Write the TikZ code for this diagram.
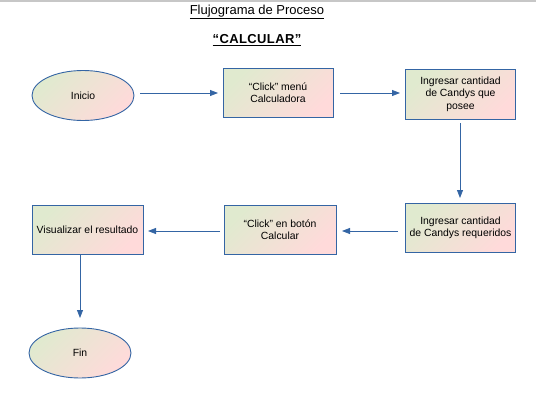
\documentclass[tikz,border=0pt]{standalone}
\usepackage{fontspec}
\setmainfont{Liberation Sans}
\usetikzlibrary{arrows.meta,shapes.geometric}
\definecolor{lnblue}{RGB}{52,101,164}
\definecolor{gtop}{RGB}{224,234,207}
\definecolor{gbot}{RGB}{255,218,218}
\tikzset{
  boxfill/.style={draw=lnblue, line width=0.9pt, top color=gtop, bottom color=gbot, shading angle=45},
  procbox/.style={boxfill, rectangle, minimum width=110pt, minimum height=49pt, align=center, inner sep=1pt, font=\fontsize{10.4}{12.4}\selectfont},
  termnode/.style={boxfill, ellipse, minimum width=102pt, minimum height=50pt, font=\fontsize{10.4}{12.4}\selectfont},
  flow/.style={draw=lnblue, line width=0.8pt, -{Triangle[length=8pt,width=6pt]}}
}
\begin{document}
\begin{tikzpicture}[x=1pt,y=-1pt]
\useasboundingbox (0,0) rectangle (536,407);
\fill[black!22] (0,0) rectangle (536,2);
\node[font=\fontsize{13}{15}\selectfont] (title) at (257,12) {\underline{Flujograma de Proceso}};
\node[font=\fontsize{13}{15}\selectfont\bfseries] (sub) at (257,40) {\underline{\addfontfeature{LetterSpace=3}“CALCULAR”}};
\node[termnode] (inicio) at (83,95.5) {Inicio};
\node[procbox] (click1) at (278,92.5) {“Click” menú\\Calculadora};
\node[procbox, minimum height=50pt] (ing1) at (460.5,94) {Ingresar cantidad\\de Candys que\\posee};
\node[procbox] (ing2) at (460.5,228) {Ingresar cantidad\\de Candys requeridos};
\node[procbox, minimum width=112pt] (click2) at (280,229.5) {“Click” en botón\\Calcular};
\node[procbox, minimum width=111pt] (vis) at (87.5,229.5) {Visualizar el resultado};
\node[termnode] (fin) at (80,353) {Fin};
\coordinate (a1s) at (140,93);
\coordinate (a1e) at (218,93);
\draw[flow] (a1s) -- (a1e);
\coordinate (a2s) at (340,93);
\coordinate (a2e) at (400,93);
\draw[flow] (a2s) -- (a2e);
\coordinate (a3s) at (460,123);
\coordinate (a3e) at (460,198);
\draw[flow] (a3s) -- (a3e);
\coordinate (a4s) at (398,231);
\coordinate (a4e) at (342,231);
\draw[flow] (a4s) -- (a4e);
\coordinate (a5s) at (220,231);
\coordinate (a5e) at (148,231);
\draw[flow] (a5s) -- (a5e);
\coordinate (a6s) at (80,254);
\coordinate (a6e) at (80,318);
\draw[flow] (a6s) -- (a6e);
\end{tikzpicture}
\end{document}
